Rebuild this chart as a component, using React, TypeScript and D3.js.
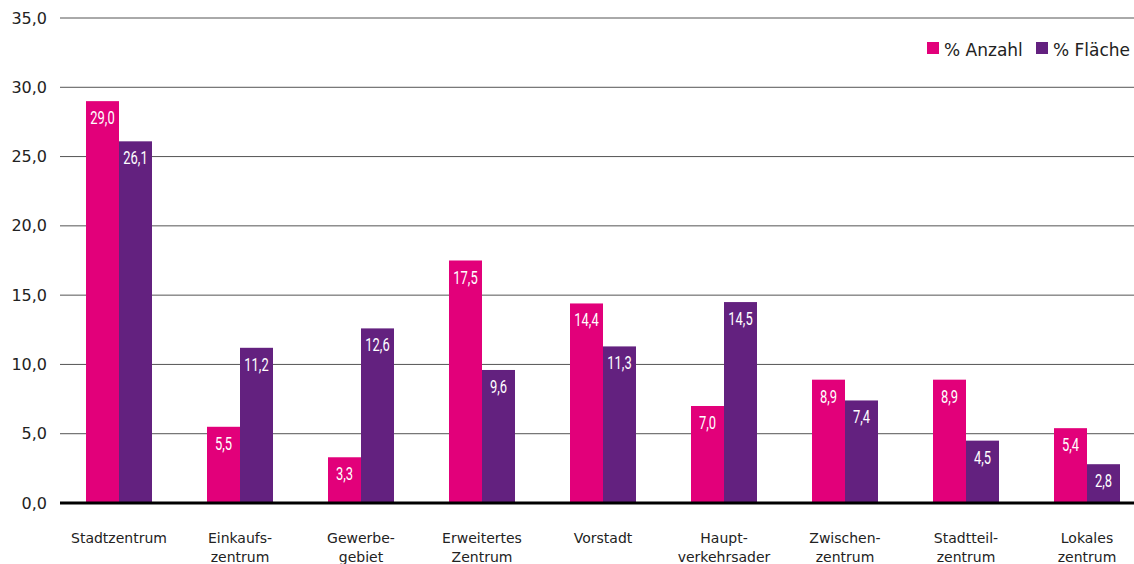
import React from "react";
import * as d3 from "d3";

const categories: string[][] = [
  ["Stadtzentrum"],
  ["Einkaufs-", "zentrum"],
  ["Gewerbe-", "gebiet"],
  ["Erweitertes", "Zentrum"],
  ["Vorstadt"],
  ["Haupt-", "verkehrsader"],
  ["Zwischen-", "zentrum"],
  ["Stadtteil-", "zentrum"],
  ["Lokales", "zentrum"],
];
const anzahl = [29.0, 5.5, 3.3, 17.5, 14.4, 7.0, 8.9, 8.9, 5.4];
const flaeche = [26.1, 11.2, 12.6, 9.6, 11.3, 14.5, 7.4, 4.5, 2.8];
const seriesNames = ["% Anzahl", "% Fläche"];
const colors = ["#E2007A", "#63217F"];
const yTicks = [0, 5, 10, 15, 20, 25, 30, 35];

const fmt = (v: number) => v.toFixed(1).replace(".", ",");

export default function App() {
  const W = 1134, H = 564;
  const x0 = d3.scaleBand<number>().domain(d3.range(categories.length)).range([58.5, 1147.5]).paddingInner(0).paddingOuter(0);
  const x1 = d3.scaleBand<number>().domain([0, 1]).range([0, 66]);
  const y = d3.scaleLinear().domain([0, 35]).range([503, 18]);
  const barFont = "Roboto, sans-serif";
  const font = "'DejaVu Sans', sans-serif";
  const series = [anzahl, flaeche];
  return (
    <svg width={W} height={H} style={{ position: "absolute", left: 0, top: 0 }} fontFamily={font}>
      {yTicks.map((t) => (
        <g key={t}>
          {t !== 0 && <line x1={60} x2={W} y1={y(t)} y2={y(t)} stroke="#555" strokeWidth={1} />}
          <text x={47} y={y(t)} dy="0.35em" textAnchor="end" fontSize={16} fill="#222">{fmt(t)}</text>
        </g>
      ))}
      {categories.map((c, i) => {
        const cx = x0(i)! + x0.bandwidth() / 2;
        const gx = cx - 33;
        return (
          <g key={i}>
            {series.map((s, k) => {
              const v = s[i];
              const bx = gx + x1(k)!;
              return (
                <g key={k}>
                  <rect x={bx} y={y(v)} width={x1.bandwidth()} height={y(0) - y(v)} fill={colors[k]} />
                  <text transform={`translate(${bx + x1.bandwidth() / 2},${y(v) + 23}) scale(0.7,1)`} textAnchor="middle" fontSize={18.5} fill="#fff" fontFamily={barFont} fontWeight={400}>{fmt(v)}</text>
                </g>
              );
            })}
            {c.map((line, li) => (
              <text key={li} x={cx} y={543 + li * 19} textAnchor="middle" fontSize={14} fill="#222">{line}</text>
            ))}
          </g>
        );
      })}
      <line x1={60} x2={W} y1={y(0)} y2={y(0)} stroke="#000" strokeWidth={3} />
      <g>
        <rect x={927} y={42} width={12} height={12} fill={colors[0]} />
        <text x={944} y={56} fontSize={17} fill="#222">{seriesNames[0]}</text>
        <rect x={1036} y={42} width={12} height={12} fill={colors[1]} />
        <text x={1053} y={56} fontSize={17} fill="#222">{seriesNames[1]}</text>
      </g>
    </svg>
  );
}
